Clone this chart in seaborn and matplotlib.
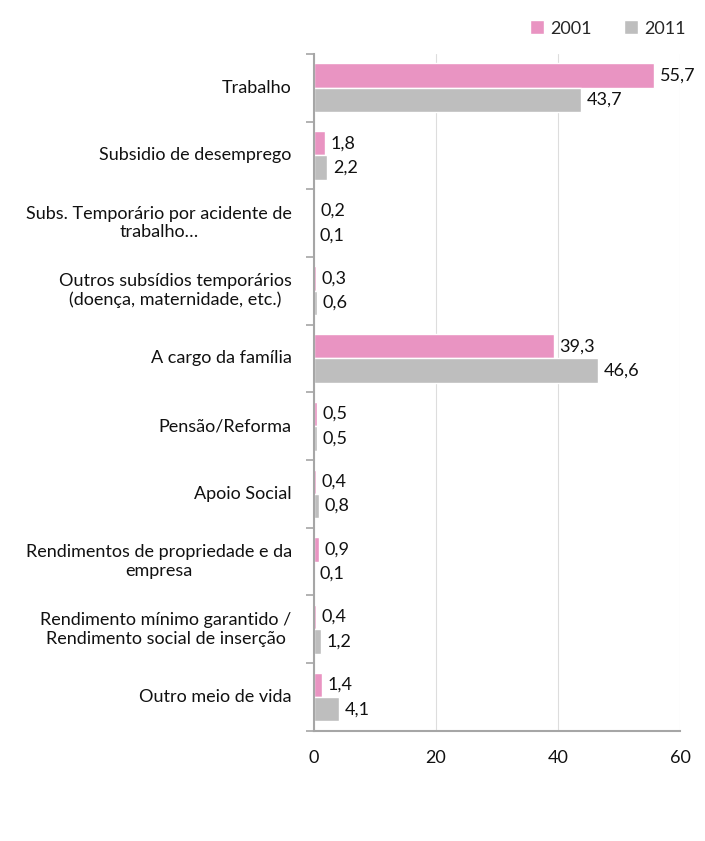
import numpy as np
import pandas as pd
import matplotlib.pyplot as plt
import matplotlib.transforms as mtransforms
import seaborn as sns

categories = [
    "Trabalho",
    "Subsidio de desemprego",
    "Subs. Temporário por acidente de\ntrabalho…",
    "Outros subsídios temporários\n(doença, maternidade, etc.)",
    "A cargo da família",
    "Pensão/Reforma",
    "Apoio Social",
    "Rendimentos de propriedade e da\nempresa",
    "Rendimento mínimo garantido /\nRendimento social de inserção",
    "Outro meio de vida",
]
values_2001 = [55.7, 1.8, 0.2, 0.3, 39.3, 0.5, 0.4, 0.9, 0.4, 1.4]
values_2011 = [43.7, 2.2, 0.1, 0.6, 46.6, 0.5, 0.8, 0.1, 1.2, 4.1]
years = ["2001", "2011"]

df = pd.DataFrame({
    "cat": categories * 2,
    "ano": [years[0]] * len(categories) + [years[1]] * len(categories),
    "valor": values_2001 + values_2011,
})

sns.set_theme(style="white")
plt.rcParams['font.family'] = ['Lato', 'DejaVu Sans']

fig = plt.figure(figsize=(7.05, 8.41), dpi=100)
ax = fig.add_axes([0.445, 0.131, 0.52, 0.805])

palette = {"2001": "#E994C2", "2011": "#BEBEBE"}
sns.barplot(data=df, y="cat", x="valor", hue="ano", palette=palette,
            orient="h", width=0.72, ax=ax, saturation=1, legend=True)

for cont in ax.containers:
    ax.bar_label(cont, labels=[f"{v:.1f}".replace(".", ",") for v in cont.datavalues],
                 padding=4, fontsize=13, color="#111111")

ax.set_xlim(0, 60)
ax.set_xticks([0, 20, 40, 60])
ax.set_yticks(range(len(categories)))
ax.set_yticks(np.arange(len(categories) + 1) - 0.5, minor=True)
ax.xaxis.grid(True, color="#DDDDDD", linewidth=0.8)
ax.set_axisbelow(True)
ax.set_xlabel("")
ax.set_ylabel("")
ax.tick_params(axis="y", which="major", length=0, labelleft=False)
ax.tick_params(axis="y", which="minor", length=6, width=1.2, color="#A6A6A6", left=True)
ax.tick_params(axis="x", labelsize=13, length=0, pad=14, labelcolor="#111111")
for s in ["top", "right"]:
    ax.spines[s].set_visible(False)
ax.spines["left"].set_color("#A6A6A6")
ax.spines["bottom"].set_color("#A6A6A6")
ax.spines["left"].set_linewidth(1.5)
ax.spines["bottom"].set_linewidth(1.5)

# category labels drawn as text so wrapped lines can be centred
trans = mtransforms.blended_transform_factory(ax.transAxes, ax.transData)
for i, cat in enumerate(categories):
    ax.text(-0.06, i, cat, transform=trans, ha="right", va="center",
            multialignment="center", fontsize=13, color="#111111")

handles, labels = ax.get_legend_handles_labels()
ax.legend_.remove()
fig.legend(handles, labels, loc="upper right", bbox_to_anchor=(0.995, 0.995), ncol=2,
           frameon=False, fontsize=13, handlelength=0.8, handleheight=0.8,
           columnspacing=1.8, handletextpad=0.3)

fig.savefig("out.png", dpi=100)
